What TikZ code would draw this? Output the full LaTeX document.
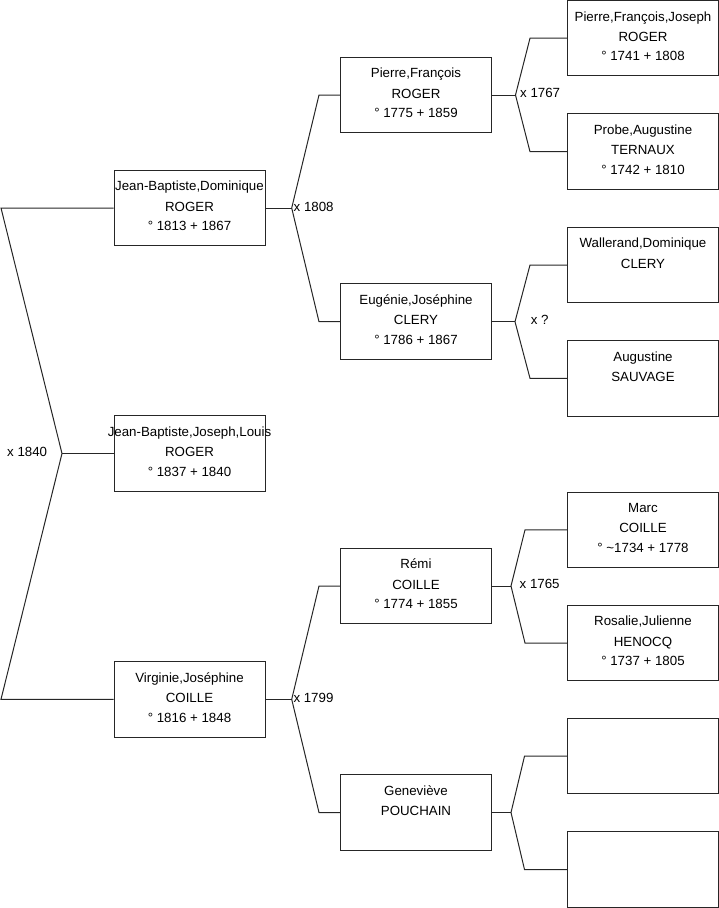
\documentclass[tikz,border=0pt]{standalone}
\usepackage{fontspec}
\setmainfont{Liberation Sans}
\begin{document}
\begin{tikzpicture}[x=1pt,y=-1pt,
  pbox/.style={draw=black!85,line width=1pt,minimum width=151pt,minimum height=75.5pt,inner sep=0pt,fill=white},
  ptxt/.style={anchor=base,inner sep=0pt,font=\fontsize{13.3pt}{20pt}\selectfont},
  mlabel/.style={anchor=base west,inner sep=0pt,font=\fontsize{13.3pt}{20pt}\selectfont},
  conn/.style={draw=black!85,line width=1pt}]
\useasboundingbox (0,0) rectangle (719,908);
\newcommand\pbx[5]{%
  \node[pbox] (#1) at (#2) {};
  \node[ptxt] (#1a) at ([yshift=-21.2pt]#1.north) {#3};
  \node[ptxt] (#1b) at ([yshift=-41.3pt]#1.north) {#4};
  \node[ptxt] (#1c) at ([yshift=-61pt]#1.north) {#5};}
% generation 1-2
\pbx{jbd}{189.5,208}{Jean-Baptiste,Dominique}{ROGER}{° 1813 + 1867}
\pbx{jbjl}{189.5,453.5}{Jean-Baptiste,Joseph,Louis}{ROGER}{° 1837 + 1840}
\pbx{vj}{189.5,699.3}{Virginie,Joséphine}{COILLE}{° 1816 + 1848}
% generation 3
\pbx{pf}{416,95}{Pierre,François}{ROGER}{° 1775 + 1859}
\pbx{ej}{416,321.7}{Eugénie,Joséphine}{CLERY}{° 1786 + 1867}
\pbx{re}{416,586}{Rémi}{COILLE}{° 1774 + 1855}
\pbx{ge}{416,812.5}{Geneviève}{POUCHAIN}{}
% generation 4
\pbx{ga}{643,38.2}{Pierre,François,Joseph}{ROGER}{° 1741 + 1808}
\pbx{gb}{643,151.7}{Probe,Augustine}{TERNAUX}{° 1742 + 1810}
\pbx{gc}{643,265}{Wallerand,Dominique}{CLERY}{}
\pbx{gd}{643,378.3}{Augustine}{SAUVAGE}{}
\pbx{ge4}{643,529.8}{Marc}{COILLE}{° \textasciitilde 1734 + 1778}
\pbx{gf}{643,643}{Rosalie,Julienne}{HENOCQ}{° 1737 + 1805}
\pbx{gg}{643,756.2}{}{}{}
\pbx{gh}{643,869.5}{}{}{}
% fork 1 (x 1840)
\coordinate (f1) at (62,453.5);
\coordinate (f1a) at (1,208);
\coordinate (f1b) at (1,699.3);
\draw[conn] (jbd.west) -- (f1a) -- (f1) -- (f1b) -- (vj.west);
\draw[conn] (f1) -- (jbjl.west);
\node[mlabel] (l1) at (7,456.5) {x 1840};
% fork 2 (x 1808)
\coordinate (f2) at (291.7,208);
\coordinate (f2a) at (319,95);
\coordinate (f2b) at (319,321.7);
\draw[conn] (jbd.east) -- (f2);
\draw[conn] (pf.west) -- (f2a) -- (f2) -- (f2b) -- (ej.west);
\node[mlabel] (l2) at (293.5,211.2) {x 1808};
% fork 3 (x 1767)
\coordinate (f3) at (515.5,95);
\coordinate (f3a) at (530,38.2);
\coordinate (f3b) at (530,151.7);
\draw[conn] (pf.east) -- (f3);
\draw[conn] (ga.west) -- (f3a) -- (f3) -- (f3b) -- (gb.west);
\node[mlabel] (l3) at (520,97.8) {x 1767};
% fork 4 (x ?)
\coordinate (f4) at (515,321.7);
\coordinate (f4a) at (530,265);
\coordinate (f4b) at (530,378.3);
\draw[conn] (ej.east) -- (f4);
\draw[conn] (gc.west) -- (f4a) -- (f4) -- (f4b) -- (gd.west);
\node[mlabel] (l4) at (530.7,324.5) {x ?};
% fork 5 (x 1799)
\coordinate (f5) at (291.7,699.3);
\coordinate (f5a) at (319,586);
\coordinate (f5b) at (319,812.5);
\draw[conn] (vj.east) -- (f5);
\draw[conn] (re.west) -- (f5a) -- (f5) -- (f5b) -- (ge.west);
\node[mlabel] (l5) at (293.3,702.5) {x 1799};
% fork 6 (x 1765)
\coordinate (f6) at (511,586);
\coordinate (f6a) at (525,529.8);
\coordinate (f6b) at (525,643);
\draw[conn] (re.east) -- (f6);
\draw[conn] (ge4.west) -- (f6a) -- (f6) -- (f6b) -- (gf.west);
\node[mlabel] (l6) at (519.5,588.8) {x 1765};
% fork 7
\coordinate (f7) at (511,812.5);
\coordinate (f7a) at (524.5,756.2);
\coordinate (f7b) at (524.5,869.5);
\draw[conn] (ge.east) -- (f7);
\draw[conn] (gg.west) -- (f7a) -- (f7) -- (f7b) -- (gh.west);
\end{tikzpicture}
\end{document}
